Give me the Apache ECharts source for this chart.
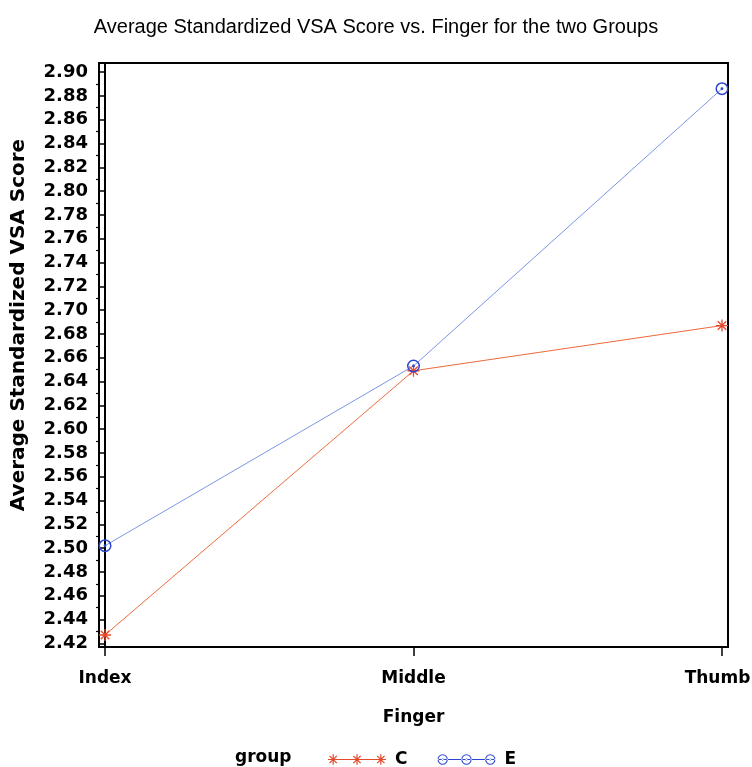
<!DOCTYPE html>
<html>
<head>
<meta charset="utf-8">
<script src="https://cdn.jsdelivr.net/npm/echarts@6/dist/echarts.min.js"></script>
<style>html,body{margin:0;padding:0;background:#fff;}#chart{width:752px;height:767px;}</style>
</head>
<body>
<div id="chart"></div>
<script>
// ---- data ----
const fingers = ['Index', 'Middle', 'Thumb'];
const groupC = [2.427, 2.649, 2.687];
const groupE = [2.502, 2.653, 2.886];
const yTickLabels = [2.42, 2.44, 2.46, 2.48, 2.50, 2.52, 2.54, 2.56, 2.58, 2.60, 2.62, 2.64, 2.66, 2.68, 2.70, 2.72, 2.74, 2.76, 2.78, 2.80, 2.82, 2.84, 2.86, 2.88, 2.90];
const yMinorTicks = [2.43, 2.45, 2.47, 2.49, 2.51, 2.53, 2.55, 2.57, 2.59, 2.61, 2.63, 2.65, 2.67, 2.69, 2.71, 2.73, 2.75, 2.77, 2.79, 2.81, 2.83, 2.85, 2.87, 2.89];
const titleText = 'Average Standardized VSA Score vs. Finger for the two Groups';

// ---- styling helpers ----
const colC = '#e64a2a', colE = '#2c44d2';
const lineC = '#ec6a3c', lineE = '#7c96e6';
function star(cx, cy, r, w) {
  const h = w / 2, d = h * 0.7071, k = r * 0.7071;
  return `M${cx - h} ${cy - r}H${cx + h}V${cy + r}H${cx - h}Z` +
    `M${cx - r} ${cy - h}H${cx + r}V${cy + h}H${cx - r}Z` +
    `M${cx - k - d} ${cy - k + d}L${cx - k + d} ${cy - k - d}L${cx + k + d} ${cy + k - d}L${cx + k - d} ${cy + k + d}Z` +
    `M${cx + k - d} ${cy - k - d}L${cx + k + d} ${cy - k + d}L${cx - k + d} ${cy + k + d}L${cx - k - d} ${cy + k - d}Z`;
}
function ring(cx, cy, r, w, dot) {
  const ri = r - w;
  return `M${cx - r} ${cy}A${r} ${r} 0 1 0 ${cx + r} ${cy}A${r} ${r} 0 1 0 ${cx - r} ${cy}Z` +
    `M${cx - ri} ${cy}A${ri} ${ri} 0 1 1 ${cx + ri} ${cy}A${ri} ${ri} 0 1 1 ${cx - ri} ${cy}Z` +
    `M${cx - dot} ${cy}A${dot} ${dot} 0 1 0 ${cx + dot} ${cy}A${dot} ${dot} 0 1 0 ${cx - dot} ${cy}Z`;
}
const symC = 'path://' + star(6, 6, 6, 1.3);
const symE = 'path://' + ring(6, 6, 6, 1.4, 1.3);
const legC = 'path://M0 5.6H56V6.4H0Z' + star(5, 6, 5, 1.2) + star(28, 6, 5, 1.2) + star(51, 6, 5, 1.2);
const legE = 'path://M0 5.6H56V6.4H0Z' + ring(5, 6, 5, 1, 0.9) + ring(28, 6, 5, 1, 0.9) + ring(51, 6, 5, 1, 0.9);

const boldFont = { fontFamily: 'DejaVu Sans', fontWeight: 'bold', color: '#000' };

const chart = echarts.init(document.getElementById('chart'), null, { renderer: 'canvas' });
chart.setOption({
  backgroundColor: '#fff',
  animation: false,
  title: [
    { text: titleText, left: 'center', top: 12,
      textStyle: { fontFamily: 'Liberation Sans', fontWeight: 'normal', fontSize: 20, color: '#000' } },
    { text: 'group', left: 230, top: 744,
      textStyle: Object.assign({ fontSize: 17 }, boldFont) }
  ],
  legend: {
    left: 323, top: 746,
    itemWidth: 58, itemHeight: 13, itemGap: 30,
    textStyle: Object.assign({ fontSize: 17, padding: [0, 0, 0, 4] }, boldFont),
    data: [{ name: 'C', icon: legC }, { name: 'E', icon: legE }]
  },
  grid: { left: 99, right: 24, top: 63, bottom: 120, outerBoundsMode: 'none', containLabel: false,
    show: true, borderColor: '#000', borderWidth: 2, backgroundColor: '#fff' },
  xAxis: {
    type: 'value', min: -0.0195, max: 2.0195,
    name: 'Finger', nameLocation: 'middle', nameGap: 62,
    nameTextStyle: Object.assign({ fontSize: 17 }, boldFont),
    axisLine: { show: true, lineStyle: { color: '#000', width: 2 } },
    axisTick: { show: true, length: 9, customValues: [0, 1, 2], lineStyle: { color: '#000', width: 1.5 } },
    axisLabel: Object.assign({ fontSize: 17, margin: 23, customValues: [0, 1, 2],
      formatter: v => {
        const i = Math.round(v);
        return i === fingers.length - 1 ? '{last|' + fingers[i] + '}' : fingers[i];
      },
      rich: { last: Object.assign({ fontSize: 17, padding: [0, 9, 0, 0] }, boldFont) } }, boldFont),
    splitLine: { show: false }
  },
  yAxis: [{
    type: 'value', min: 2.4169, max: 2.9076,
    name: 'Average Standardized VSA Score', nameLocation: 'middle', nameGap: 70,
    nameTextStyle: Object.assign({ fontSize: 20, padding: [0, 0, 0, 60] }, boldFont),
    axisLine: { show: true, lineStyle: { color: '#000', width: 2 } },
    axisTick: { show: true, length: 6, customValues: yTickLabels, lineStyle: { color: '#000', width: 1.5 } },
    axisLabel: Object.assign({ fontSize: 18, margin: 11, customValues: yTickLabels,
      formatter: v => v.toFixed(2) }, boldFont),
    splitLine: { show: false }
  }, {
    type: 'value', min: 2.4169, max: 2.9076, position: 'left',
    axisLine: { show: false },
    axisTick: { show: true, length: 3, customValues: yMinorTicks, lineStyle: { color: '#000', width: 1.2 } },
    axisLabel: { show: false },
    splitLine: { show: false }
  }],
  series: [{
    name: 'C', type: 'line', yAxisIndex: 0,
    data: groupC.map((v, i) => [i, v]),
    symbol: symC, symbolSize: 12,
    itemStyle: { color: colC },
    lineStyle: { color: lineC, width: 1 }
  }, {
    name: 'E', type: 'line', yAxisIndex: 0,
    data: groupE.map((v, i) => [i, v]),
    symbol: symE, symbolSize: 13,
    itemStyle: { color: colE },
    lineStyle: { color: lineE, width: 1 }
  }]
});
</script>
</body>
</html>
